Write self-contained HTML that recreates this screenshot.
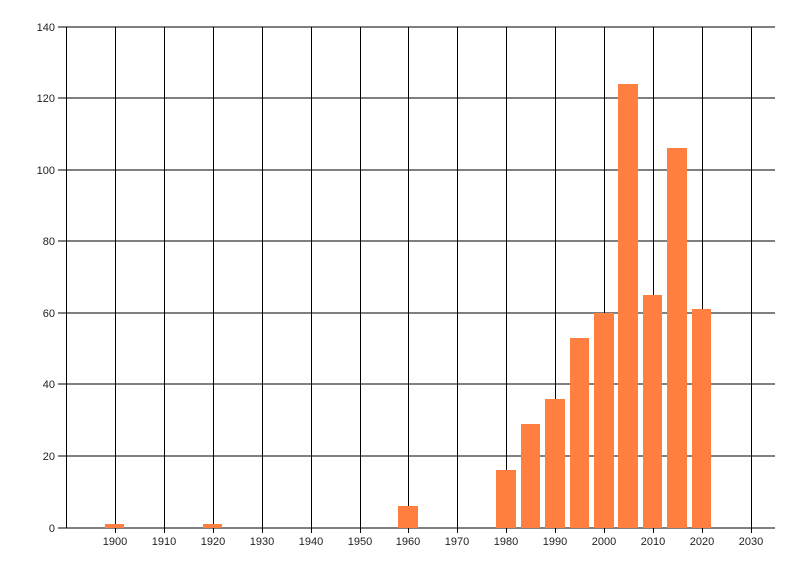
<!DOCTYPE html>
<html><head><meta charset="utf-8"><style>
html,body{margin:0;padding:0;background:#fff;width:800px;height:576px;overflow:hidden}
text{font-family:"Liberation Sans",sans-serif;font-size:11px;fill:#222}
</style></head><body>
<svg width="800" height="576" xmlns="http://www.w3.org/2000/svg">
<g stroke="#000" stroke-width="1" shape-rendering="crispEdges">
<!-- horizontal grid -->
<line x1="58" y1="27" x2="775" y2="27"/>
<line x1="58" y1="98" x2="775" y2="98"/>
<line x1="58" y1="170" x2="775" y2="170"/>
<line x1="58" y1="241" x2="775" y2="241"/>
<line x1="58" y1="313" x2="775" y2="313"/>
<line x1="58" y1="384" x2="775" y2="384"/>
<line x1="58" y1="456" x2="775" y2="456"/>
<line x1="58" y1="528" x2="775" y2="528"/>
<!-- vertical -->
<line x1="66.5" y1="27" x2="66.5" y2="528"/>
<line x1="115.5" y1="27" x2="115.5" y2="533"/>
<line x1="164.5" y1="27" x2="164.5" y2="533"/>
<line x1="213.5" y1="27" x2="213.5" y2="533"/>
<line x1="262.5" y1="27" x2="262.5" y2="533"/>
<line x1="311.5" y1="27" x2="311.5" y2="533"/>
<line x1="360.5" y1="27" x2="360.5" y2="533"/>
<line x1="408.5" y1="27" x2="408.5" y2="533"/>
<line x1="457.5" y1="27" x2="457.5" y2="533"/>
<line x1="506.5" y1="27" x2="506.5" y2="533"/>
<line x1="555.5" y1="27" x2="555.5" y2="533"/>
<line x1="604.5" y1="27" x2="604.5" y2="533"/>
<line x1="653.5" y1="27" x2="653.5" y2="533"/>
<line x1="702.5" y1="27" x2="702.5" y2="533"/>
<line x1="751.5" y1="27" x2="751.5" y2="533"/>
</g>
<g fill="#ff7f40">
<rect x="105" y="524" width="19" height="4"/>
<rect x="203" y="524" width="19" height="4"/>
<rect x="398" y="506" width="20" height="22"/>
<rect x="496" y="470" width="20" height="58"/>
<rect x="521" y="424" width="19" height="104"/>
<rect x="545" y="399" width="20" height="129"/>
<rect x="570" y="338" width="19" height="190"/>
<rect x="594" y="313" width="20" height="215"/>
<rect x="618" y="84" width="20" height="444"/>
<rect x="643" y="295" width="19" height="233"/>
<rect x="667" y="148" width="20" height="380"/>
<rect x="692" y="309" width="19" height="219"/>
</g>
<g text-anchor="end">
<text x="55" y="31">140</text>
<text x="55" y="102">120</text>
<text x="55" y="174">100</text>
<text x="55" y="245">80</text>
<text x="55" y="317">60</text>
<text x="55" y="388">40</text>
<text x="55" y="460">20</text>
<text x="55" y="532">0</text>
</g>
<g text-anchor="middle">
<text x="115" y="545">1900</text>
<text x="164" y="545">1910</text>
<text x="213" y="545">1920</text>
<text x="262" y="545">1930</text>
<text x="311" y="545">1940</text>
<text x="360" y="545">1950</text>
<text x="408" y="545">1960</text>
<text x="457" y="545">1970</text>
<text x="506" y="545">1980</text>
<text x="555" y="545">1990</text>
<text x="604" y="545">2000</text>
<text x="653" y="545">2010</text>
<text x="702" y="545">2020</text>
<text x="751" y="545">2030</text>
</g>
</svg>
</body></html>
